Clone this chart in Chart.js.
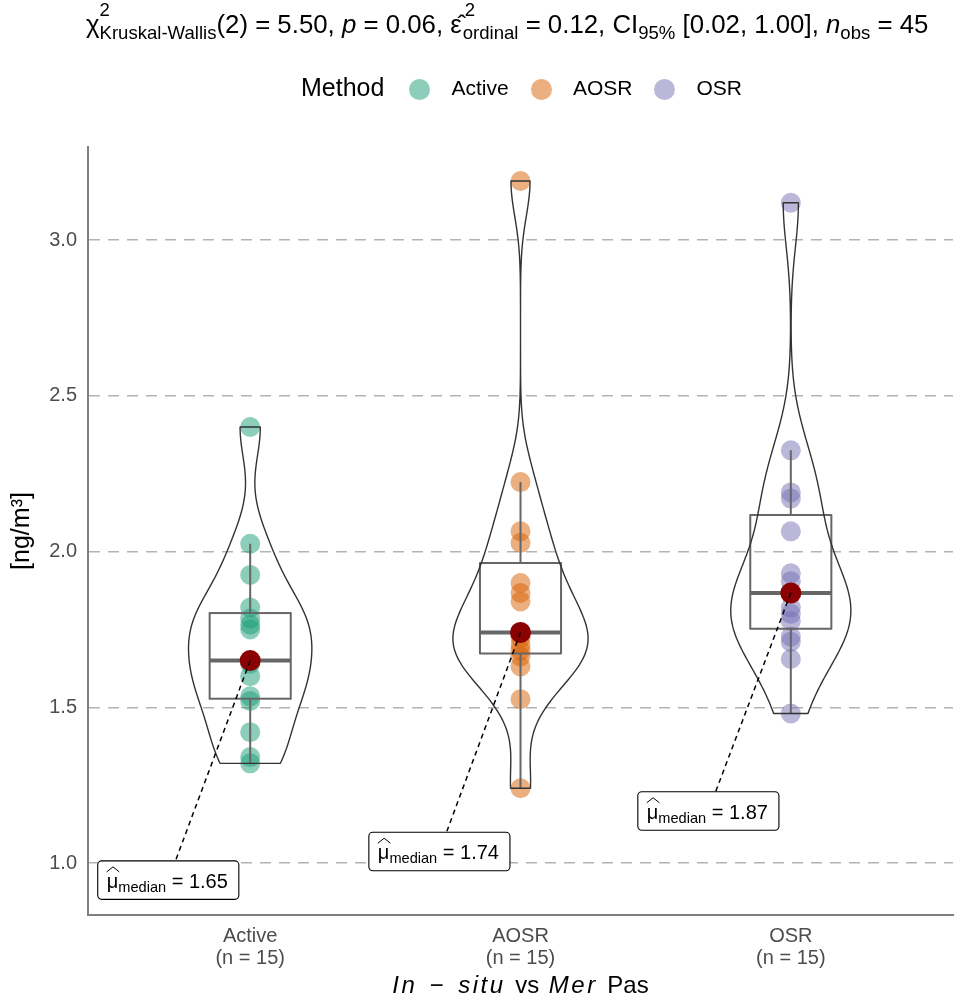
<!DOCTYPE html>
<html>
<head>
<meta charset="utf-8">
<script src="https://cdn.jsdelivr.net/npm/chart.js@4.4.1/dist/chart.umd.min.js"></script>
<style>
html, body { margin: 0; padding: 0; background: #fff; }
#wrap { position: relative; width: 957px; height: 999px; font-family: "Liberation Sans", Arial, sans-serif; color: #000; }
#c { position: absolute; left: 0; top: 0; }
#title { position: absolute; left: 86px; top: 9px; text-align: left; font-size: 25.8px; line-height: 30px; white-space: nowrap; }
.st { position: relative; display: inline-block; font-size: 0.72em; line-height: 1; vertical-align: -0.3em; }
.st .sp { position: absolute; left: 0; top: -1.2em; }
.st.e { margin-left: 1px; }
.st.e .sp { left: 2px; }
.sb { font-size: 0.72em; vertical-align: -0.3em; line-height: 1; }
#legend { position: absolute; left: 0; top: 0; width: 957px; height: 120px; }
.lt { position: absolute; font-size: 25px; top: 72px; line-height: 30px; }
.ld { position: absolute; width: 21px; height: 21px; border-radius: 50%; top: 78.5px; }
.ll { position: absolute; font-size: 21px; top: 75px; line-height: 26px; }
#xtitle { position: absolute; left: 88px; width: 865px; top: 971px; text-align: center; font-size: 24px; line-height: 28px; white-space: nowrap; word-spacing: 3px; }
#xtitle i { letter-spacing: 2.5px; }
</style>
</head>
<body>
<div id="wrap">
  <canvas id="c" width="957" height="999"></canvas>
  <div id="title">χ<span class="st"><span class="sp">2</span>Kruskal-Wallis</span>(2) = 5.50, <i>p</i> = 0.06, ε&#770;<span class="st e"><span class="sp">2</span>ordinal</span> = 0.12, CI<span class="sb">95%</span> [0.02, 1.00], <i>n</i><span class="sb">obs</span> = 45</div>
  <div id="legend"></div>
  <div id="xtitle"><i>In − situ</i> vs <i>Mer</i> Pas</div>
</div>
<script>
// ---------------- data ----------------
const categories = ['Active', 'AOSR', 'OSR'];
const activeValues = [1.32, 1.34, 1.42, 1.52, 1.535, 1.60, 1.64, 1.65, 1.75, 1.765, 1.785, 1.82, 1.925, 2.025, 2.40];
const aosrValues   = [1.24, 1.526, 1.631, 1.663, 1.682, 1.70, 1.723, 1.74, 1.84, 1.867, 1.899, 2.028, 2.065, 2.223, 3.19];
const osrValues    = [1.48, 1.655, 1.71, 1.727, 1.777, 1.80, 1.82, 1.867, 1.905, 1.93, 2.065, 2.17, 2.19, 2.325, 3.12];
const yTicks = [1.0, 1.5, 2.0, 2.5, 3.0];
const legendTitle = 'Method';
const yTitle = '[ng/m³]';

// ---------------- styles / layout ----------------
const groupValues = [activeValues, aosrValues, osrValues];
const groupColors = ['27,158,119', '217,95,2', '117,112,179'];
const FONT = '"Liberation Sans", Arial, sans-serif';
// label box centres in data space (category units, y units)
const labelCenters = [[0.697, 0.945], [1.70, 1.037], [2.695, 1.167]];
const legendPos = { title: 301, dots: [409, 530.5, 654], labels: [451.5, 573, 696.5] };

// ---------------- stats helpers ----------------
const sortNum = a => a.slice().sort((p, q) => p - q);
function q7(s, p) { const h = (s.length - 1) * p; const lo = Math.floor(h); const hi = Math.min(lo + 1, s.length - 1); return s[lo] + (h - lo) * (s[hi] - s[lo]); }
function sdev(a) { const m = a.reduce((s, v) => s + v, 0) / a.length; return Math.sqrt(a.reduce((s, v) => s + (v - m) * (v - m), 0) / (a.length - 1)); }
function bwNrd0(a) { const s = sortNum(a); const hi = sdev(a); let lo = Math.min(hi, (q7(s, .75) - q7(s, .25)) / 1.34); if (!lo) lo = hi || 1; return 0.9 * lo * Math.pow(a.length, -0.2); }
function dens(a, bw, y) { let t = 0; for (const v of a) { const z = (y - v) / bw; t += Math.exp(-0.5 * z * z); } return t / (a.length * bw * Math.sqrt(2 * Math.PI)); }
function boxStats(a) {
  const s = sortNum(a); const q1 = q7(s, .25), med = q7(s, .5), q3 = q7(s, .75); const iqr = q3 - q1;
  const lo = s.filter(v => v >= q1 - 1.5 * iqr)[0]; const hiArr = s.filter(v => v <= q3 + 1.5 * iqr);
  return { q1, med, q3, lo, hi: hiArr[hiArr.length - 1], min: s[0], max: s[s.length - 1] };
}
const stats = groupValues.map(boxStats);
const violins = groupValues.map((a, i) => {
  const bw = bwNrd0(a); const st = stats[i]; const ys = []; const ds = [];
  const N = 300;
  for (let k = 0; k <= N; k++) { const y = st.min + (st.max - st.min) * k / N; ys.push(y); ds.push(dens(a, bw, y)); }
  return { ys, ds };
});
const maxDens = Math.max(...violins.map(v => Math.max(...v.ds)));

// ---------------- legend (HTML) ----------------
(function () {
  const lg = document.getElementById('legend');
  const t = document.createElement('div'); t.className = 'lt'; t.style.left = legendPos.title + 'px'; t.textContent = legendTitle; lg.appendChild(t);
  categories.forEach((c, i) => {
    const d = document.createElement('div'); d.className = 'ld'; d.style.left = legendPos.dots[i] + 'px'; d.style.background = 'rgba(' + groupColors[i] + ',0.5)'; lg.appendChild(d);
    const l = document.createElement('div'); l.className = 'll'; l.style.left = legendPos.labels[i] + 'px'; l.textContent = c; lg.appendChild(l);
  });
})();

// ---------------- plugins ----------------
const violinBoxPlugin = {
  id: 'violinBox',
  beforeDatasetDraw(chart, args) {
    if (args.index !== 3) return;
    const ctx = chart.ctx; const xs = chart.scales.x, ys = chart.scales.y;
    const unit = xs.getPixelForValue(1) - xs.getPixelForValue(0);
    ctx.save();
    ctx.beginPath(); ctx.rect(chart.chartArea.left, chart.chartArea.top, chart.chartArea.right - chart.chartArea.left, chart.chartArea.bottom - chart.chartArea.top); ctx.clip();
    stats.forEach((st, i) => {
      const cx = xs.getPixelForValue(i + 1);
      const hb = 0.15 * unit;
      ctx.strokeStyle = '#666666'; ctx.lineWidth = 2;
      ctx.beginPath();
      ctx.moveTo(cx, ys.getPixelForValue(st.q3)); ctx.lineTo(cx, ys.getPixelForValue(st.hi));
      ctx.moveTo(cx, ys.getPixelForValue(st.q1)); ctx.lineTo(cx, ys.getPixelForValue(st.lo));
      ctx.stroke();
      ctx.strokeRect(cx - hb, ys.getPixelForValue(st.q3), 2 * hb, ys.getPixelForValue(st.q1) - ys.getPixelForValue(st.q3));
      ctx.lineWidth = 4;
      ctx.beginPath(); ctx.moveTo(cx - hb, ys.getPixelForValue(st.med)); ctx.lineTo(cx + hb, ys.getPixelForValue(st.med)); ctx.stroke();
      const v = violins[i];
      ctx.strokeStyle = '#333333'; ctx.lineWidth = 1.4; ctx.lineJoin = 'round';
      ctx.beginPath();
      for (let k = 0; k < v.ys.length; k++) { const w = v.ds[k] / maxDens * 0.25 * unit; const py = ys.getPixelForValue(v.ys[k]); if (k === 0) ctx.moveTo(cx - w, py); else ctx.lineTo(cx - w, py); }
      for (let k = v.ys.length - 1; k >= 0; k--) { const w = v.ds[k] / maxDens * 0.25 * unit; ctx.lineTo(cx + w, ys.getPixelForValue(v.ys[k])); }
      ctx.closePath(); ctx.stroke();
    });
    ctx.restore();
  },
  afterDatasetsDraw(chart) {
    const ctx = chart.ctx; const xs = chart.scales.x, ys = chart.scales.y;
    ctx.save();
    stats.forEach((st, i) => {
      const px = xs.getPixelForValue(i + 1), py = ys.getPixelForValue(st.med);
      const lx = xs.getPixelForValue(labelCenters[i][0]), ly = ys.getPixelForValue(labelCenters[i][1]);
      const mainF = '20px ' + FONT, subF = '14.6px ' + FONT;
      ctx.font = mainF; const wMu = ctx.measureText('μ').width;
      ctx.font = subF; const wSub = ctx.measureText('median').width;
      ctx.font = mainF; const rest = ' = ' + st.med.toFixed(2); const wRest = ctx.measureText(rest).width;
      const padX = 9, h = 38.5;
      const w = padX * 2 + wMu + wSub + wRest + 2;
      const bx = lx - w / 2, by = ly - h / 2;
      const dx = lx - px, dy = ly - py;
      let t = 1;
      if (dy !== 0) { const ty = ((dy > 0 ? by : by + h) - py) / dy; if (ty > 0 && ty < t) t = ty; }
      if (dx !== 0) { const tx = ((dx > 0 ? bx : bx + w) - px) / dx; const yy = py + tx * dy; if (tx > 0 && tx < t && yy >= by && yy <= by + h) t = tx; }
      ctx.strokeStyle = '#000'; ctx.lineWidth = 1.5; ctx.setLineDash([5, 4]);
      ctx.beginPath(); ctx.moveTo(px, py); ctx.lineTo(px + dx * t, py + dy * t); ctx.stroke();
      ctx.setLineDash([]);
      ctx.fillStyle = '#fff'; ctx.lineWidth = 1.1; ctx.strokeStyle = '#000';
      ctx.beginPath(); ctx.roundRect(bx, by, w, h, 4); ctx.fill(); ctx.stroke();
      const base = by + 27;
      let x = bx + padX;
      ctx.fillStyle = '#000'; ctx.textBaseline = 'alphabetic'; ctx.textAlign = 'left';
      ctx.font = mainF; ctx.fillText('μ', x, base);
      ctx.lineWidth = 1; ctx.beginPath(); ctx.moveTo(x, base - 16); ctx.lineTo(x + wMu / 2 + 0.5, base - 21); ctx.lineTo(x + wMu + 1, base - 16); ctx.stroke();
      x += wMu;
      ctx.font = subF; ctx.fillText('median', x, base + 4); x += wSub;
      ctx.font = mainF; ctx.fillText(rest, x, base);
    });
    ctx.restore();
  }
};

// ---------------- chart ----------------
const datasets = groupValues.map((vals, i) => ({
  label: categories[i],
  data: vals.map(v => ({ x: i + 1, y: v })),
  backgroundColor: 'rgba(' + groupColors[i] + ',0.5)',
  borderWidth: 0,
  pointRadius: 10,
  order: 1
}));
datasets.push({
  label: 'median',
  data: stats.map((s, i) => ({ x: i + 1, y: s.med })),
  backgroundColor: '#8B0000',
  borderWidth: 0,
  pointRadius: 10.5,
  order: 0
});

new Chart(document.getElementById('c'), {
  type: 'scatter',
  data: { datasets },
  plugins: [violinBoxPlugin],
  options: {
    responsive: false,
    animation: false,
    devicePixelRatio: 1,
    layout: { autoPadding: false, padding: { top: 147, right: 4, left: 0, bottom: 0 } },
    plugins: { legend: { display: false }, tooltip: { enabled: false } },
    scales: {
      x: {
        type: 'linear', min: 0.4, max: 3.6,
        afterBuildTicks: s => { s.ticks = categories.map((c, i) => ({ value: i + 1 })); },
        afterFit: s => { s.height = 84; },
        ticks: {
          autoSkip: false, maxRotation: 0, padding: 10, color: '#4d4d4d',
          font: { size: 20, family: FONT, lineHeight: 1.1 },
          callback: v => [categories[v - 1], '(n = ' + groupValues[v - 1].length + ')']
        },
        grid: { display: false, drawTicks: false },
        border: { display: true, color: '#7f7f7f', width: 2 }
      },
      y: {
        type: 'linear', min: 0.833, max: 3.299,
        afterBuildTicks: s => { s.ticks = yTicks.map(v => ({ value: v })); },
        afterFit: s => { s.width = 88; },
        ticks: { padding: 11, color: '#4d4d4d', font: { size: 20, family: FONT }, callback: v => v.toFixed(1) },
        grid: { color: '#b3b3b3', lineWidth: 1.5, drawTicks: false },
        border: { display: true, color: '#7f7f7f', width: 2, dash: [11, 8] },
        title: { display: true, text: yTitle, color: '#000', font: { size: 25, family: FONT }, padding: { top: 7, bottom: 0 } }
      }
    }
  }
});
</script>
</body>
</html>
